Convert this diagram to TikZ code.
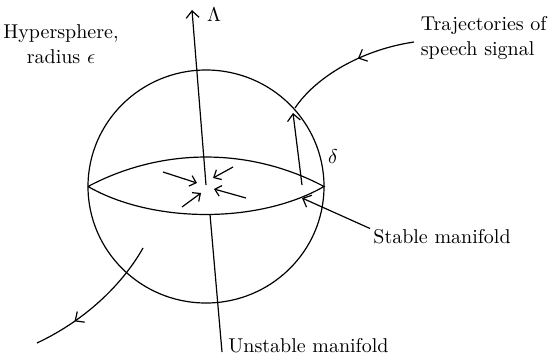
\documentclass[tikz,border=0pt]{standalone}
\usepackage{amsmath}
\usetikzlibrary{arrows.meta,decorations.markings,positioning}
\tikzset{
  sphere/.style={draw=black, line width=0.6pt},
  flow/.style={-{Straight Barb[length=3.5pt,width=6.5pt]}, line width=0.6pt},
  inflow/.style={-{Straight Barb[length=3pt,width=5.5pt]}, line width=0.6pt},
  traj/.style={line width=0.6pt, postaction={decorate},
    decoration={markings, mark=at position #1 with {\arrow{Straight Barb[length=3.5pt,width=6.5pt]}}}},
  note/.style={font=\fontsize{10}{12.5}\selectfont, inner sep=0pt}
}

\begin{document}
\begin{tikzpicture}[x=0.5pt,y=-0.5pt]
  \useasboundingbox (0,0) rectangle (549,359);
  \coordinate (O) at (206,186.5);
  \coordinate (lt) at (88,186.5);
  \coordinate (rt) at (324,186.5);
  \coordinate (c) at (206,185);
  \coordinate (lensbot) at (210,214.5);
  \coordinate (sm) at (302,198);
  \coordinate (d0) at (302,185);
  \coordinate (d1) at (293,113);
  \coordinate (tip) at (192,10);
  \draw[sphere] (O) ellipse [x radius=59pt, y radius=58.25pt];
  \draw[sphere] (lt) .. controls (162,147.2) and (250,147.2) .. (rt) .. controls (259,223.8) and (153,223.8) .. (lt);
  \node[note, align=center] (hyper) at (61,44) {Hypersphere,\\radius $\epsilon$};
  \node[note] (lambda) at (214,15) {$\Lambda$};
  \node[note, align=left, anchor=east] (traj) at (547,38) {Trajectories of\\ speech signal};
  \node[note] (delta) at (333,157) {$\delta$};
  \node[note, anchor=base west] (stable) at (373,243) {Stable manifold};
  \node[note, anchor=base west] (unstable) at (228,352) {Unstable manifold};
  \draw[flow] (c) -- (tip);
  \draw[line width=0.6pt] ([xshift=-3pt]unstable.base west) -- (lensbot);
  \draw[inflow] (163,172) -- (197,183);
  \draw[inflow] (233,167) -- (213,178);
  \draw[inflow] (246,198) -- (214,189);
  \draw[inflow] (182,207) -- (201,193);
  \draw[flow] (d0) -- (d1);
  \draw[flow] ([xshift=-1.5pt]stable.north west) -- (sm);
  \draw[traj=0.42] (414,42) .. controls (360,50) and (315,78) .. (295,108);
  \draw[traj=0.7] (143,248) .. controls (125,280) and (90,318) .. (37,343);
\end{tikzpicture}
\end{document}
